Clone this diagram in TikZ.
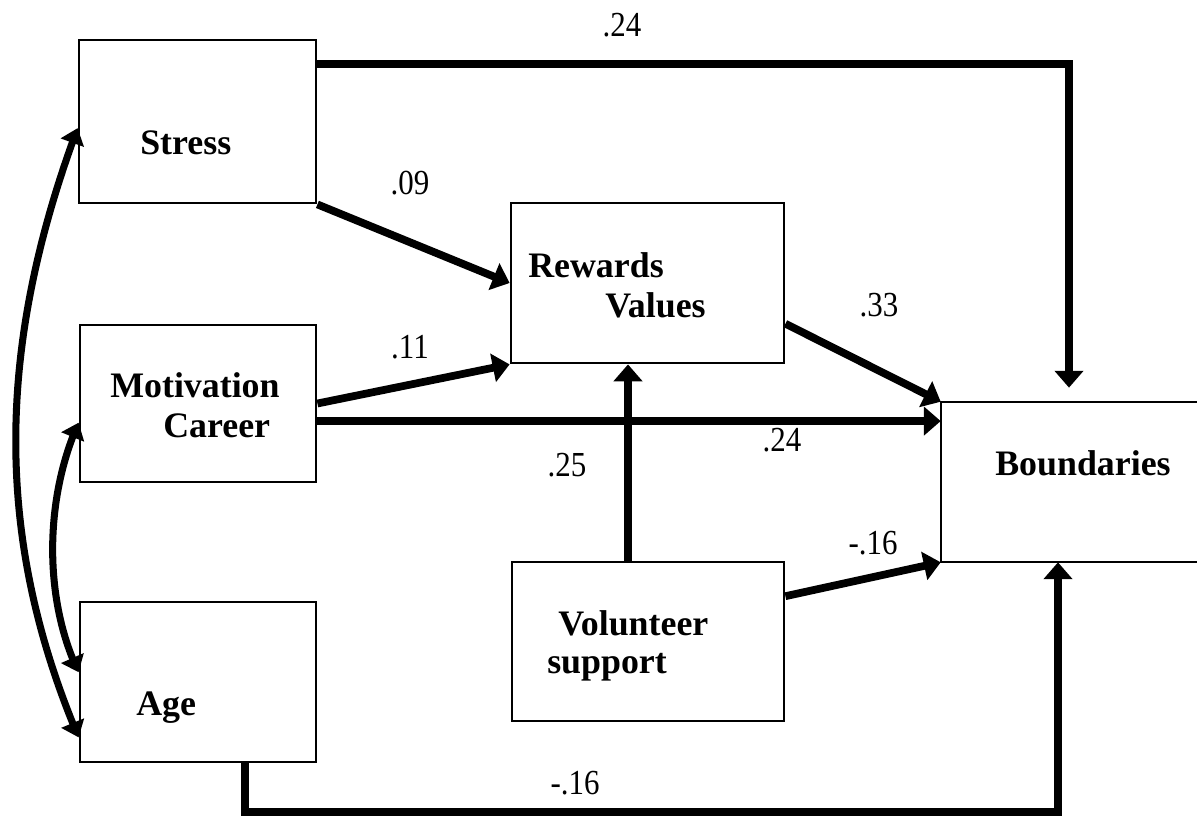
\documentclass[tikz,border=0pt]{standalone}
\usepackage{fontspec}
\setmainfont{Liberation Serif}
\newfontfamily\lblfont[FakeStretch=0.88]{Liberation Serif}
\usetikzlibrary{arrows.meta,calc,fit,bending}
\tikzset{
  box/.style={draw, line width=2pt, inner sep=0pt},
  thinedge/.style={line width=1.5pt},
  vartext/.style={anchor=base west, inner sep=0pt, font=\fontsize{25.5pt}{28pt}\selectfont\bfseries},
  coef/.style={inner sep=0pt, font=\lblfont\fontsize{25pt}{28pt}\selectfont},
  patharrow/.style={line width=5.5pt, -{Triangle[length=12pt,width=20pt]}},
  corrarrow/.style={line width=5pt, {Triangle[length=11pt,width=17pt]}-{Triangle[length=11pt,width=17pt]}},
}
\begin{document}
\begin{tikzpicture}[x=0.025cm, y=-0.025cm]
\useasboundingbox (0,0) rectangle (1197,817);
\clip (0,0) rectangle (1197,817);

% variable boxes
\node[box, fit={(79,40) (316,203)}] (stress) {};
\node[box, fit={(80,325) (316,482)}] (mot) {};
\node[box, fit={(80,602) (316,762)}] (age) {};
\node[box, fit={(511,203) (784,363)}] (rew) {};
\node[box, fit={(512,562) (784,721)}] (vol) {};
\node[inner sep=0pt, fit={(941,402) (1240,562)}] (bnd) {};
\draw[thinedge] (bnd.north east) -- (bnd.north west) -- (bnd.south west) -- (bnd.south east);

% box texts
\node[vartext] (tstress) at (140,154) {Stress};
\node[vartext] (tmot1) at (110,397) {Motivation};
\node[vartext] (tmot2) at (163,437) {Career};
\node[vartext] (tage) at (136,715) {Age};
\node[vartext] (trew1) at (528,277) {Rewards};
\node[vartext] (trew2) at (605,317) {Values};
\node[vartext] (tvol1) at (558,635) {Volunteer};
\node[vartext] (tvol2) at (547,673) {support};
\node[vartext] (tbnd) at (995,475) {Boundaries};

% routing points
\coordinate (s1) at (1069,64);
\coordinate (a1) at (245,812);
\coordinate (a2) at (1058,812);
\coordinate (v1) at (628,500);
\path ($(mot.north east)!0.61!(mot.south east)$) coordinate (m2);

% direct paths
\draw[patharrow, shorten >=10pt] (stress.north east |- s1) -- (s1) -- (s1 |- bnd.north);
\draw[patharrow] (stress.south east) -- (rew.west);
\draw[patharrow] (mot.east) -- (rew.south west);
\draw[patharrow] (m2) -- (m2 -| bnd.west);
\draw[patharrow] ($(rew.north east)!0.75!(rew.south east)$) -- (bnd.north west);
\draw[patharrow] (v1 |- vol.north) -- (v1 |- rew.south);
\draw[patharrow] ($(vol.north east)!0.22!(vol.south east)$) -- (bnd.south west);
\draw[patharrow] (a1 |- age.south) -- (a1) -- (a2) -- (a2 |- bnd.south);

% correlations
\draw[corrarrow] ($(stress.north west)!0.54!(stress.south west)$)
  .. controls (-5,350) and (-5,540) .. ($(age.north west)!0.84!(age.south west)$);
\draw[corrarrow] ($(mot.north west)!0.62!(mot.south west)$)
  .. controls (44,500) and (44,600) .. ($(age.north west)!0.44!(age.south west)$);

% coefficients
\node[coef] (c1) at (622,25) {.24};
\node[coef] (c2) at (410,183) {.09};
\node[coef] (c3) at (410,347) {.11};
\node[coef] (c4) at (782,440) {.24};
\node[coef] (c5) at (879,305) {.33};
\node[coef] (c6) at (567,465) {.25};
\node[coef] (c7) at (873,543) {-.16};
\node[coef] (c8) at (575,783) {-.16};
\end{tikzpicture}
\end{document}
